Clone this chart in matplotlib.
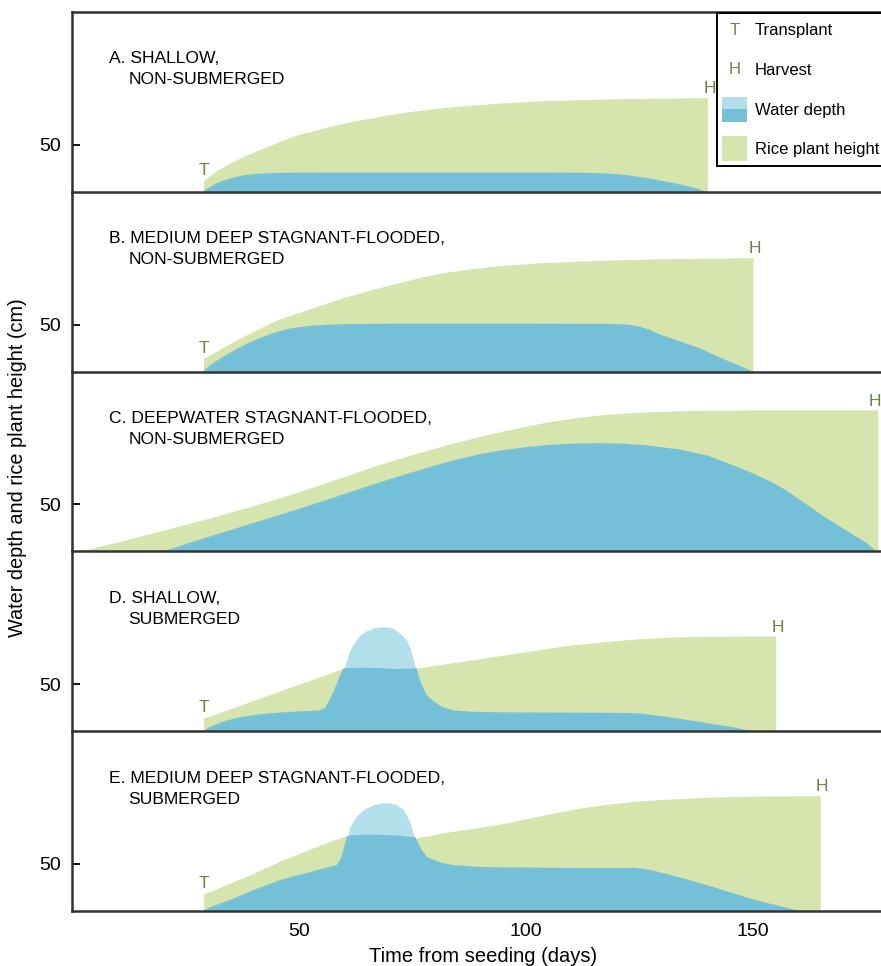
import numpy as np
import matplotlib
matplotlib.use("Agg")
import matplotlib.pyplot as plt
from matplotlib.patches import Rectangle, Patch
from matplotlib.lines import Line2D
from matplotlib.text import Text
from matplotlib.legend_handler import HandlerBase

plt.rcParams["font.family"] = ["Liberation Sans", "DejaVu Sans"]

# ---- data (days from seeding, cm) ----
titles = [
    ("A. SHALLOW,", "NON-SUBMERGED"),
    ("B. MEDIUM DEEP STAGNANT-FLOODED,", "NON-SUBMERGED"),
    ("C. DEEPWATER STAGNANT-FLOODED,", "NON-SUBMERGED"),
    ("D. SHALLOW,", "SUBMERGED"),
    ("E. MEDIUM DEEP STAGNANT-FLOODED,", "SUBMERGED"),
]
transplanted = [True, True, False, True, True]

plant_a_day = [29, 32, 35, 38, 41, 44, 47, 50, 54, 58, 62, 66, 70, 75, 81, 88, 95,
               103, 112, 125, 140]
plant_a_cm = [12, 23, 31, 38, 44, 50, 56, 61, 66, 71, 75, 78.5, 82, 85.5, 89, 92, 94.5,
              96.5, 98, 99.2, 100]
water_a_day = [29, 30, 31, 32, 33, 34.5, 36, 38, 40, 43, 47, 60, 100, 112, 117, 120,
               123, 126, 129, 132, 135, 137.5, 139.4]
water_a_cm = [0, 3, 6, 8.5, 10.5, 13, 15, 16.8, 18, 19, 19.5, 19.7, 19.7, 19.5, 19, 18,
              16.5, 14.3, 11.8, 9, 5.8, 3, 0]

plant_b_day = [29, 31, 33, 36, 39, 42, 45, 48, 52, 56, 59, 63, 68, 73, 77, 81, 86, 92,
               97, 103, 110, 118, 125, 135, 150]
plant_b_cm = [14, 19.5, 25, 33, 40.5, 47.5, 54.5, 59.5, 66, 72.5, 77.5, 83, 89.5, 95.5,
              100.5, 104.5, 108, 111.5, 113.5, 115.5, 117, 118.5, 119.3, 120.2, 121]
water_b_day = [29, 30, 31, 32.5, 34, 35.5, 37, 38.5, 40, 42, 44, 46, 48, 50, 53, 56,
               60, 70, 100, 118, 121, 123, 125, 127, 129, 132, 135, 138, 141, 144,
               147, 149.7]
water_b_cm = [0, 4, 8, 12.5, 17, 21, 25, 28.5, 32, 36, 39.5, 42.5, 45, 46.5, 48, 49,
              49.7, 50.2, 50.2, 50, 49.6, 48.8, 47, 44, 39.5, 34.5, 29.5, 24.5, 18,
              11.5, 5.5, 0]

plant_c_day = [1.5, 10, 22, 30, 38, 45.8, 51, 56.8, 62, 67.8, 73, 78.9, 84, 89.9, 95,
               100.9, 106, 111.9, 117, 122.9, 128, 133.9, 140, 150, 177.5]
plant_c_cm = [0, 10, 25, 35, 46, 57, 65, 74.5, 83, 92.5, 100, 108.5, 115, 122, 128,
              134, 138.5, 142.5, 145.3, 147.3, 148.5, 149.3, 150, 150.3, 150.3]
water_c_day = [20.5, 30, 38, 45.8, 51, 56.8, 62, 67.8, 73, 78.9, 84, 89.9, 95, 100.9,
               106, 111.9, 116, 120, 126.5, 133.9, 140, 146, 150, 154, 157, 160, 163,
               166, 169, 172, 175, 177]
water_c_cm = [0, 14.5, 26.5, 38, 46, 55, 63.5, 72.5, 80.5, 89, 96, 102.5, 107, 110.5,
              112.8, 114, 114.3, 114, 112, 107.5, 101, 90, 82, 73, 65, 55, 45, 35, 26,
              17, 8, 0]

plant_d_day = [29, 35, 43, 50, 57.5, 60, 64, 68, 72, 76, 80, 87, 98, 109, 115, 120,
               125, 131, 137, 143, 155]
plant_d_cm = [14, 24, 38, 50, 63, 67, 67.5, 67, 66, 67, 70, 75, 83, 91, 94, 96.3,
              98.2, 99.8, 100.6, 101, 101.2]
water_d_day = [29, 30.5, 32, 34, 36, 38.5, 41, 44, 48, 52, 54.6, 56, 57.6, 59, 60,
               61.2, 62.3, 63.4, 65, 66.5, 68.5, 70.5, 72, 73.7, 74.5, 75.2, 76, 76.7,
               78, 79.6, 81.5, 84, 88, 95, 110, 120, 124, 127, 131, 134.5, 138, 141,
               144, 147, 149]
water_d_cm = [0, 4, 7, 10.5, 13, 15.3, 17, 18.5, 19.8, 20.8, 21.5, 25, 40, 57, 68,
              86, 95, 102, 107, 110, 111, 110, 105, 97, 88, 75, 62, 51,
              38, 31, 25, 21.5, 20, 19.3, 19, 18.8, 18.5, 17, 14.5, 12, 9.5, 7,
              4.8, 2.2, 0]

plant_e_day = [29, 35, 40, 45.8, 52, 56, 59.7, 62, 64, 67.8, 72, 76, 79, 83, 90, 95,
               100, 106, 112, 118, 124, 129, 134, 140, 145, 152, 164.8]
plant_e_cm = [18, 30, 40, 53, 65, 72.5, 79, 80.5, 81, 81, 80, 78, 80.5, 84, 89, 93,
              98, 104, 109.5, 113.5, 116.5, 118.3, 119.5, 120.8, 121.6, 122.2, 122.5]
water_e_day = [29, 30.5, 32.5, 34.8, 37.5, 40, 43, 45.8, 49, 52, 55, 58.4, 59.2, 59.7,
               60.5, 61.2, 62.5, 64, 65.5, 67, 68.5, 70, 71.5, 73, 74.3, 75.5, 76.7,
               78, 81, 84, 90, 110, 124, 126, 128, 131, 134.6, 137.5, 140, 143, 145.7,
               149, 152, 156, 159.6]
water_e_cm = [0, 3.5, 7, 11, 16.5, 21.5, 27, 32, 36.5, 40, 44, 48, 54, 61,
              75, 89, 100, 107, 111, 113.5, 115, 114.8, 113, 108, 96, 78, 66,
              57, 51, 48, 46, 45, 45, 44, 42.3, 38.5, 34, 30, 26.5, 22, 18,
              13, 9, 4.5, 0]

plants = [(plant_a_day, plant_a_cm), (plant_b_day, plant_b_cm), (plant_c_day, plant_c_cm),
          (plant_d_day, plant_d_cm), (plant_e_day, plant_e_cm)]
waters = [(water_a_day, water_a_cm), (water_b_day, water_b_cm), (water_c_day, water_c_cm),
          (water_d_day, water_d_cm), (water_e_day, water_e_cm)]

GREEN = "#d6e4ae"
DARK = "#74c0d8"
LIGHT = "#b2dfeb"
LETTER = "#6e8050"
SPINE = "#333333"
XMAX = 178.2


class LetterHandler(HandlerBase):
    def __init__(self, letter):
        super().__init__()
        self.letter = letter

    def create_artists(self, legend, orig_handle, xdescent, ydescent,
                       width, height, fontsize, trans):
        t = Text(width / 2 - xdescent, height / 2 - ydescent, self.letter,
                 ha="center", va="center", color=LETTER, fontsize=fontsize,
                 transform=trans)
        return [t]


class TwoToneHandler(HandlerBase):
    def create_artists(self, legend, orig_handle, xdescent, ydescent,
                       width, height, fontsize, trans):
        top = Rectangle((-xdescent, -ydescent + height / 2), width, height / 2,
                        facecolor=LIGHT, edgecolor="none", transform=trans)
        bot = Rectangle((-xdescent, -ydescent), width, height / 2,
                        facecolor=DARK, edgecolor="none", transform=trans)
        return [top, bot]


fig = plt.figure(figsize=(8.81, 9.66), dpi=100)
axes = fig.subplots(5, 1, sharex=True, gridspec_kw=dict(hspace=0))
fig.subplots_adjust(left=0.0817, right=1.0, top=0.9876, bottom=0.0569)

for i, ax in enumerate(axes):
    ax.patch.set_visible(False)
    pd_, ph = plants[i]
    wd, wh = waters[i]
    ax.fill_between(wd, wh, color=LIGHT, lw=0, zorder=1)
    pl = ax.fill_between(pd_, ph, color=GREEN, lw=0, zorder=2)
    plant_path = pl.get_paths()[0]
    dk = ax.fill_between(wd, wh, color=DARK, lw=0, zorder=3)
    dk.set_clip_path(plant_path, ax.transData)
    # cover the light fringe along the water surface inside the plant area
    edge, = ax.plot(wd, wh, color=DARK, lw=1.0, zorder=3.1)
    edge.set_clip_path(plant_path, ax.transData)

    if transplanted[i]:
        ax.text(pd_[0], ph[0] + 6, "T", ha="center", va="baseline",
                color=LETTER, fontsize=12.5)
    hx = min(pd_[-1] + 0.4, XMAX - 1.3)
    ax.text(hx, ph[-1] + 4.5, "H", ha="center", va="baseline",
            color=LETTER, fontsize=12.5, clip_on=False)

    ax.text(0.046, 1 - 47 / 180, titles[i][0], transform=ax.transAxes,
            va="center", fontsize=12.6)
    ax.text(0.070, 1 - 68 / 180, titles[i][1], transform=ax.transAxes,
            va="center", fontsize=12.6)

    ax.set_xlim(0, XMAX)
    ax.set_ylim(0, 191)
    ax.set_yticks([50])
    ax.tick_params(axis="y", direction="in", length=6, width=1.3,
                   labelsize=14, pad=8)
    ax.spines["right"].set_visible(False)
    if i > 0:
        ax.spines["top"].set_visible(False)
    for s in ["left", "bottom", "top"]:
        ax.spines[s].set_linewidth(1.8)
        ax.spines[s].set_color(SPINE)
    ax.spines["bottom"].set_zorder(5)
    if i < 4:
        ax.tick_params(axis="x", bottom=False, labelbottom=False)

axes[-1].set_xticks([50, 100, 150])
axes[-1].tick_params(axis="x", direction="in", length=5, width=1.3,
                     labelsize=14, pad=8.5)
axes[-1].set_xlabel("Time from seeding (days)", fontsize=14.5, labelpad=5)
axes[-1].xaxis.label.set_x(0.508)
fig.text(18 / 881, 0.5155, "Water depth and rice plant height (cm)",
         rotation=90, ha="center", va="center", fontsize=14.3)

# legend
t_h = Line2D([], [])
h_h = Line2D([], [])
w_h = Patch()
r_h = Patch(facecolor=GREEN, edgecolor="none")
leg = axes[0].legend(
    [t_h, h_h, w_h, r_h],
    ["Transplant", "Harvest", "Water depth", "Rice plant height"],
    handler_map={t_h: LetterHandler("T"), h_h: LetterHandler("H"),
                 w_h: TwoToneHandler()},
    loc="upper left", bbox_to_anchor=(0.797, 0.997), fontsize=12,
    handlelength=1.5, handleheight=1.93, labelspacing=0.88,
    handletextpad=0.5, borderpad=0.3, borderaxespad=0,
    fancybox=False, framealpha=1, edgecolor="black")
leg.get_frame().set_linewidth(1.4)

fig.savefig("out.png", dpi=100)
